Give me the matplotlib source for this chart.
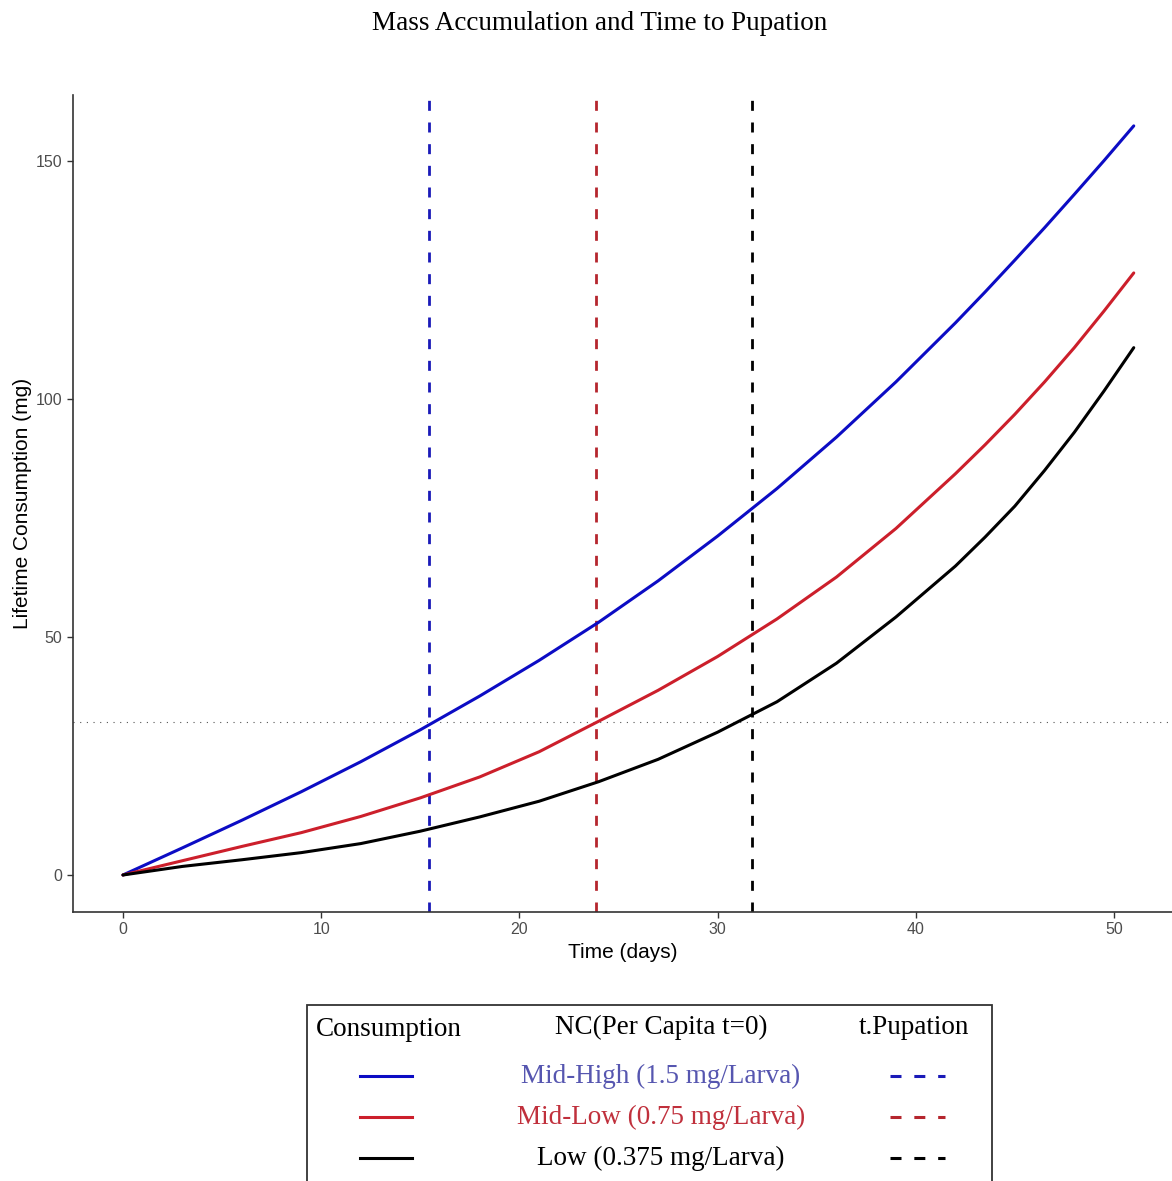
import numpy as np
import matplotlib.pyplot as plt
from matplotlib.lines import Line2D
from matplotlib.patches import Rectangle

plt.rcParams['font.family'] = ['Liberation Sans', 'DejaVu Sans']

# data
days = [0, 3, 6, 9, 12, 15, 18, 21, 24, 27, 30, 33, 36, 39, 42, 43.5, 45, 46.5, 48, 49.5, 51]
mid_high = [0, 5.7, 11.5, 17.5, 23.8, 30.5, 37.6, 45.1, 53.1, 61.8, 71.2, 81.2, 92.0, 103.6,
            116.0, 122.5, 129.2, 136.0, 143.0, 150.1, 157.4]
mid_low = [0, 3.0, 6.0, 8.9, 12.3, 16.2, 20.6, 25.9, 32.3, 38.8, 45.9, 53.8, 62.6, 72.8,
           84.3, 90.4, 96.8, 103.6, 110.8, 118.5, 126.5]
low = [0, 1.8, 3.2, 4.7, 6.6, 9.2, 12.2, 15.5, 19.6, 24.3, 30.0, 36.4, 44.5, 54.2,
       64.9, 71.0, 77.5, 85.0, 93.0, 101.7, 110.8]

t_pupation = [15.44, 23.85, 31.72]
mass_threshold = 32.2

labels = ["Mid-High (1.5 mg/Larva)", "Mid-Low (0.75 mg/Larva)", "Low (0.375 mg/Larva)"]
line_cols = ["#0c0cc4", "#cc1f2b", "#000000"]
dash_cols = ["#1a1ab8", "#b5262e", "#000000"]
text_cols = ["#5656b0", "#c0303c", "#000000"]

fig = plt.figure(figsize=(11.72, 11.81), dpi=100)
ax = fig.add_axes([0.0623, 0.2278, 0.9377, 0.6918])

# consumption curves
for y, c in zip([mid_high, mid_low, low], line_cols):
    ax.plot(days, y, color=c, lw=2.2, solid_capstyle='round', solid_joinstyle='round', zorder=3)

# pupation times
for t, c in zip(t_pupation, dash_cols):
    ax.axvline(t, color=c, lw=2, dashes=(3.6, 4.2), zorder=2)

# mass threshold
ax.axhline(mass_threshold, color="#555555", lw=0.8, linestyle=(0, (1, 5)), zorder=1)

ax.set_xlim(-2.52, 52.93)
ax.set_ylim(-7.77, 163.9)
ax.set_xticks([0, 10, 20, 30, 40, 50])
ax.set_yticks([0, 50, 100, 150])
ax.spines['top'].set_visible(False)
ax.spines['right'].set_visible(False)
for s in ['left', 'bottom']:
    ax.spines[s].set_color("#333333")
    ax.spines[s].set_linewidth(1.2)
ax.tick_params(direction='out', length=4, width=1, color="#333333",
               labelsize=11.5, labelcolor="#4d4d4d")
ax.set_xlabel("Time (days)", fontsize=15, labelpad=4)
ax.set_ylabel("Lifetime Consumption (mg)", fontsize=15)
ax.yaxis.set_label_coords(-0.0373, 0.5)

# title
fig.text(600 / 1172, 1 - 24 / 1181, "Mass Accumulation and Time to Pupation",
         family="Liberation Serif", fontsize=19.5, ha='center', va='center')

# legend drawn by hand (box runs off the bottom of the figure)
W, H = 1172.0, 1181.0
box = Rectangle((307 / W, -0.05), (992 - 307) / W, 0.05 + 1 - 1005 / H,
                transform=fig.transFigure, fill=False, edgecolor="#333333", lw=1.3, clip_on=False)
fig.add_artist(box)

serif = "Liberation Serif"
fig.text(388.5 / W, 1 - 1029 / H, "Consumption", family=serif, fontsize=19.5, ha='center', va='center')
fig.text(661 / W, 1 - 1027 / H, "NC(Per Capita t=0)", family=serif, fontsize=19.5, ha='center', va='center')
fig.text(913.5 / W, 1 - 1027 / H, "t.Pupation", family=serif, fontsize=19.5, ha='center', va='center')

rows = [1076, 1117, 1158]
for r, lab, lc, dc, tc in zip(rows, labels, line_cols, dash_cols, text_cols):
    yy = 1 - r / H
    fig.add_artist(Line2D([360 / W, 412 / W], [yy, yy], transform=fig.transFigure, color=lc, lw=2.2))
    fig.add_artist(Line2D([890 / W, 945 / W], [yy, yy], transform=fig.transFigure, color=dc, lw=2.2,
                          dashes=(3.6, 4.2)))
    fig.text(661 / W, yy, lab, family=serif, fontsize=19.5, color=tc, ha='center', va='center')

plt.savefig("out.png", dpi=100)
